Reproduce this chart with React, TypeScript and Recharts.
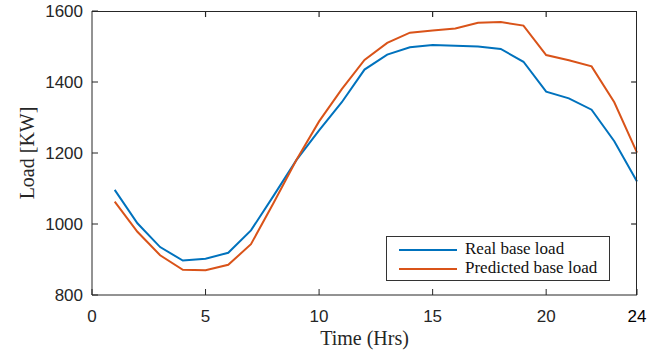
import React from 'react';
import { LineChart, Line, XAxis, YAxis, Legend, ReferenceLine } from 'recharts';

const hours = [1, 2, 3, 4, 5, 6, 7, 8, 9, 10, 11, 12, 13, 14, 15, 16, 17, 18, 19, 20, 21, 22, 23, 24];
const realLoad = [1096, 1002, 935, 897, 902, 919, 982, 1080, 1180, 1264, 1343, 1435, 1477, 1498, 1504, 1502, 1500, 1493, 1457, 1373, 1354, 1322, 1233, 1120];
const predictedLoad = [1063, 978, 912, 871, 870, 885, 943, 1060, 1180, 1289, 1380, 1462, 1510, 1539, 1545, 1551, 1567, 1569, 1559, 1476, 1461, 1444, 1343, 1201];
const xTicks = [0, 5, 10, 15, 20, 24];
const yTicks = [800, 1000, 1200, 1400, 1600];
const topTicks = [5, 10, 15, 20];
const rightTicks = [1000, 1200, 1400];
const seriesNames = ['Real base load', 'Predicted base load'];

const X_MAX = 24;
const Y_MIN = 800;
const Y_MAX = 1600;
const TICK_LEN_Y = 17;
const TICK_LEN_X = 0.26;

const BLUE = '#0072BD';
const ORANGE = '#D95319';
const AXIS = '#262626';

const data = hours.map((h, i) => ({ h, real: realLoad[i], pred: predictedLoad[i] }));

const XTick = (props: any) => {
  const { x, y, payload } = props;
  const v = payload.value;
  return (
    <text x={x} y={y} dy={12} textAnchor="middle" fontFamily="Liberation Sans, Arial, sans-serif" fontSize={17} fill={v === 24 ? '#000' : AXIS}>
      {v}
    </text>
  );
};

const LegendBox = () => (
  <div style={{ width: 222, height: 43, border: '1px solid #333', background: '#fff', position: 'relative', fontFamily: 'Liberation Serif, Times New Roman, serif', fontSize: 17, color: '#111' }}>
    {[BLUE, ORANGE].map((c, i) => (
      <div key={i} style={{ position: 'absolute', left: 0, top: 3 + i * 19.4, height: 19, width: 222 }}>
        <div style={{ position: 'absolute', left: 12, top: 9, width: 58, height: 2, background: c }} />
        <div style={{ position: 'absolute', left: 78, top: -1, lineHeight: '20px', whiteSpace: 'nowrap' }}>{seriesNames[i]}</div>
      </div>
    ))}
  </div>
);

export default function App() {
  return (
    <div style={{ position: 'absolute', left: 0, top: 0, width: 657, height: 356 }}>
      <LineChart width={657} height={356} data={data} margin={{ top: 11, right: 20, left: 0, bottom: 0 }}>
        <XAxis
          dataKey="h"
          type="number"
          domain={[0, X_MAX]}
          ticks={xTicks}
          interval={0}
          height={61}
          tickSize={-6}
          tickMargin={21}
          stroke={AXIS}
          tick={<XTick />}
          label={{
            content: (p: any) => {
              const vb = p.viewBox;
              return (
                <text x={vb.x + vb.width / 2} y={vb.y + 50} textAnchor="middle" fontFamily="Liberation Serif, Times New Roman, serif" fontSize={20} fill={AXIS}>
                  Time (Hrs)
                </text>
              );
            },
          }}
        />
        <YAxis
          type="number"
          domain={[Y_MIN, Y_MAX]}
          ticks={yTicks}
          interval={0}
          width={92}
          tickSize={-6}
          tickMargin={15}
          stroke={AXIS}
          tick={{ fontFamily: 'Liberation Sans, Arial, sans-serif', fontSize: 17, fill: AXIS }}
          label={{
            content: (p: any) => {
              const vb = p.viewBox;
              const cx = vb.x + 27;
              const cy = vb.y + vb.height / 2;
              return (
                <text x={cx} y={cy} textAnchor="middle" dominantBaseline="central" transform={`rotate(-90 ${cx} ${cy})`} fontFamily="Liberation Serif, Times New Roman, serif" fontSize={20} fill={AXIS}>
                  Load [KW]
                </text>
              );
            },
          }}
        />
        {topTicks.map((t) => (
          <ReferenceLine key={'t' + t} segment={[{ x: t, y: Y_MAX }, { x: t, y: Y_MAX - TICK_LEN_Y }]} stroke={AXIS} strokeWidth={1.2} />
        ))}
        {rightTicks.map((v) => (
          <ReferenceLine key={'r' + v} segment={[{ x: X_MAX, y: v }, { x: X_MAX - TICK_LEN_X, y: v }]} stroke={AXIS} strokeWidth={1.2} />
        ))}
        <Line type="linear" dataKey="real" stroke={BLUE} strokeWidth={2} dot={false} isAnimationActive={false} name={seriesNames[0]} />
        <Line type="linear" dataKey="pred" stroke={ORANGE} strokeWidth={2} dot={false} isAnimationActive={false} name={seriesNames[1]} />
        <Legend layout="horizontal" verticalAlign="middle" align="center" content={<LegendBox />} wrapperStyle={{ position: 'absolute', left: 386, top: 236, width: 224, height: 45 }} />
      </LineChart>
      <div style={{ position: 'absolute', left: 92, top: 11, width: 545, height: 284, borderTop: `1px solid ${AXIS}`, borderRight: `1px solid ${AXIS}`, boxSizing: 'border-box', pointerEvents: 'none' }} />
    </div>
  );
}
